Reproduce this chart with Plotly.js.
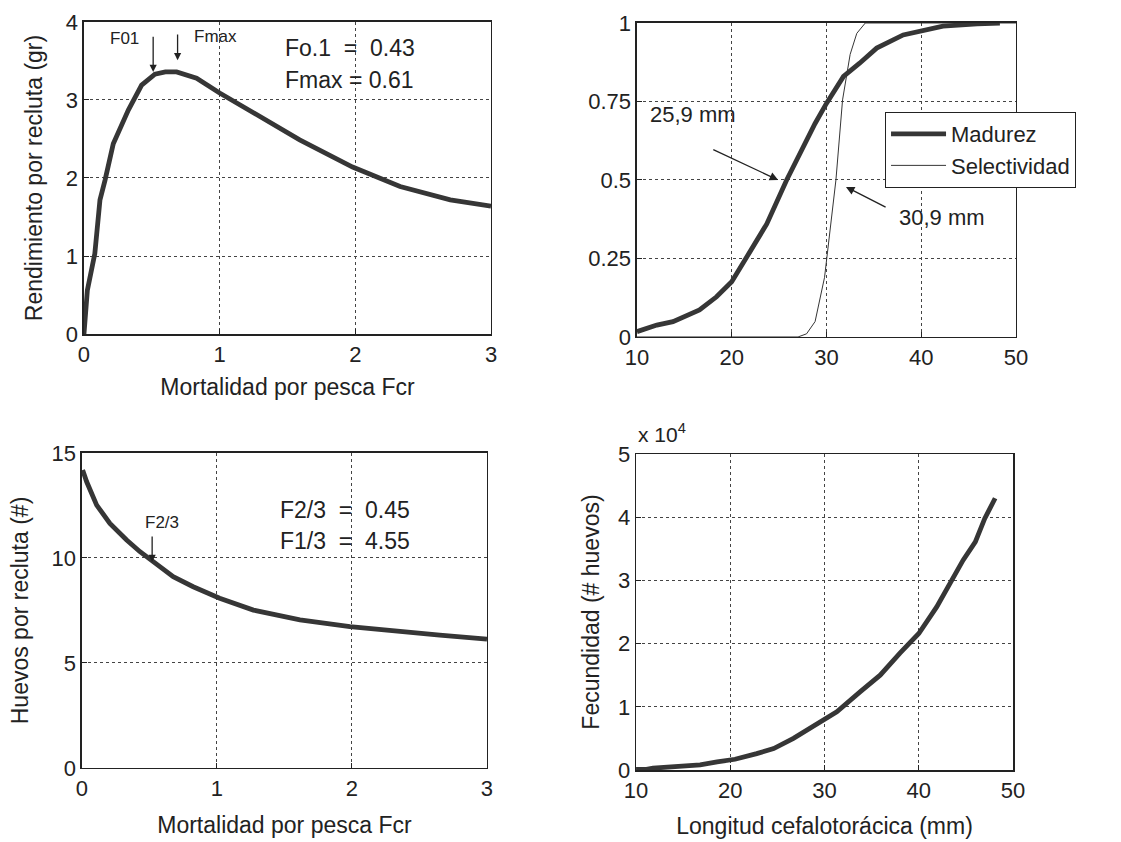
<!DOCTYPE html>
<html>
<head>
<meta charset="utf-8">
<script src="https://cdn.plot.ly/plotly-3.0.1.min.js"></script>
<style>html,body{margin:0;padding:0;background:#fff;} #chart{width:1121px;height:842px;}</style>
</head>
<body>
<div id="chart"></div>
<script>
// Rendimiento por recluta vs F
const F_rend = [0, 0.025, 0.08, 0.118, 0.155, 0.216, 0.327, 0.425, 0.523, 0.6, 0.683, 0.83, 1.0, 1.25, 1.59, 1.98, 2.33, 2.70, 3.0];
const rend   = [0, 0.56, 1.03, 1.72, 1.97, 2.44, 2.87, 3.19, 3.33, 3.36, 3.36, 3.28, 3.09, 2.83, 2.49, 2.14, 1.89, 1.72, 1.64];

// Madurez y selectividad vs longitud
const L_mad   = [10.0, 12.1, 13.8, 16.6, 18.4, 20.0, 21.7, 23.7, 25.8, 27.9, 28.8, 30.0, 31.8, 33.5, 35.3, 38.1, 40.2, 42.3, 45.9, 48.3];
const madurez = [0.017, 0.038, 0.049, 0.086, 0.128, 0.176, 0.26, 0.36, 0.50, 0.627, 0.68, 0.744, 0.83, 0.872, 0.92, 0.962, 0.976, 0.99, 0.997, 1.0];
const L_sel        = [10, 27.0, 27.9, 28.8, 29.8, 31.0, 31.7, 32.5, 33.2, 34.1, 50];
const selectividad = [0, 0, 0.01, 0.049, 0.19, 0.5, 0.755, 0.90, 0.967, 1.0, 1.0];

// Huevos por recluta vs F
const F_huevos = [0.005, 0.035, 0.109, 0.207, 0.331, 0.43, 0.528, 0.676, 0.824, 1.02, 1.27, 1.615, 1.985, 2.356, 2.65, 3.0];
const huevos   = [14.19, 13.63, 12.52, 11.65, 10.86, 10.30, 9.83, 9.11, 8.63, 8.08, 7.52, 7.05, 6.73, 6.49, 6.33, 6.14];

// Fecundidad (x 10^4) vs longitud
const L_fec      = [10, 11.1, 11.8, 15.0, 16.8, 18.6, 20.5, 22.8, 24.6, 26.7, 28.8, 31.3, 33.8, 35.9, 38.0, 40.0, 41.9, 43.3, 44.7, 46.0, 47.0, 48.1];
const fecundidad = [0.01, 0.01, 0.03, 0.05, 0.08, 0.13, 0.17, 0.26, 0.34, 0.50, 0.69, 0.92, 1.24, 1.50, 1.85, 2.16, 2.58, 2.95, 3.32, 3.61, 3.98, 4.30];

const serieNames = ['Madurez', 'Selectividad'];

const FONT = 'Liberation Sans, Arial, sans-serif';
const INK = '#222';
const LINE = '#363636';

function ax(extra) {
  return Object.assign({
    showline: true, mirror: true, linecolor: INK, linewidth: 1.5,
    ticks: 'inside', ticklen: 5, tickcolor: INK,
    showgrid: true, gridcolor: '#444', griddash: 'dot', gridwidth: 1,
    zeroline: false,
    tickfont: {family: FONT, size: 22, color: INK},
    fixedrange: true
  }, extra);
}
const tfont = {family: FONT, size: 23, color: INK};

const traces = [
  {x: F_rend, y: rend, xaxis: 'x', yaxis: 'y', mode: 'lines',
   line: {color: LINE, width: 4.8}, showlegend: false},
  {x: L_mad, y: madurez, xaxis: 'x2', yaxis: 'y2', mode: 'lines', name: serieNames[0],
   line: {color: LINE, width: 4.8}, showlegend: true},
  {x: L_sel, y: selectividad, xaxis: 'x2', yaxis: 'y2', mode: 'lines', name: serieNames[1],
   line: {color: LINE, width: 1}, showlegend: true},
  {x: F_huevos, y: huevos, xaxis: 'x3', yaxis: 'y3', mode: 'lines',
   line: {color: LINE, width: 4.8}, showlegend: false},
  {x: L_fec, y: fecundidad, xaxis: 'x4', yaxis: 'y4', mode: 'lines',
   line: {color: LINE, width: 4.8}, showlegend: false}
];

const nb = '\u00A0';
function txt(text, x, y, xref, yref, size, xanchor) {
  return {text: text, x: x, y: y, xref: xref, yref: yref, showarrow: false,
          xanchor: xanchor || 'center', yanchor: 'middle',
          font: {family: FONT, size: size, color: INK}};
}
function arrow(x, y, tx, ty, xref, yref, head, size) {
  return {text: '', x: x, y: y, ax: tx, ay: ty, xref: xref, yref: yref,
          axref: xref, ayref: yref, showarrow: true,
          arrowhead: head, arrowsize: size, arrowwidth: 1.3, arrowcolor: INK, standoff: 0};
}

const annotations = [
  txt('F01', 0.30, 3.79, 'x', 'y', 17),
  txt('Fmax', 0.97, 3.81, 'x', 'y', 17),
  arrow(0.51, 3.36, 0.51, 3.83, 'x', 'y', 2, 1.1),
  arrow(0.69, 3.51, 0.69, 3.86, 'x', 'y', 2, 1.1),
  txt('Fo.1' + nb + nb + '=' + nb + nb + '0.43', 1.47, 3.67, 'x', 'y', 23, 'left'),
  txt('Fmax' + nb + '=' + nb + '0.61', 1.47, 3.26, 'x', 'y', 23, 'left'),

  txt('25,9 mm', 11.16, 0.707, 'x2', 'y2', 22, 'left'),
  arrow(24.9, 0.5, 17.9, 0.599, 'x2', 'y2', 2, 1.3),
  arrow(32.06, 0.478, 36.4, 0.411, 'x2', 'y2', 2, 1.3),
  txt('30,9 mm', 37.4, 0.379, 'x2', 'y2', 22, 'left'),

  txt('F2/3', 0.593, 11.71, 'x3', 'y3', 17),
  arrow(0.52, 9.81, 0.52, 11.1, 'x3', 'y3', 2, 1.1),
  txt('F2/3' + nb + nb + '=' + nb + nb + '0.45', 1.452, 12.29, 'x3', 'y3', 23, 'left'),
  txt('F1/3' + nb + nb + '=' + nb + nb + '4.55', 1.452, 10.81, 'x3', 'y3', 23, 'left'),

  {text: 'x 10<sup>4</sup>', x: 0.5674, y: 0.4857, xref: 'paper', yref: 'paper',
   showarrow: false, xanchor: 'left', yanchor: 'middle',
   font: {family: FONT, size: 21, color: INK}}
];

const layout = {
  width: 1121, height: 842,
  margin: {l: 0, r: 0, t: 0, b: 0},
  paper_bgcolor: '#fff', plot_bgcolor: '#fff',
  font: {family: FONT, color: INK},
  xaxis: ax({domain: [0.0749, 0.438], range: [0, 3], anchor: 'y', tickvals: [0, 1, 2, 3],
    title: {text: 'Mortalidad por pesca Fcr', font: tfont, standoff: 13}}),
  yaxis: ax({domain: [0.6033, 0.9739], range: [0, 4], anchor: 'x', tickvals: [0, 1, 2, 3, 4],
    title: {text: 'Rendimiento por recluta (gr)', font: tfont, standoff: 16}}),
  xaxis2: ax({domain: [0.5682, 0.9063], range: [10, 50], anchor: 'y2', tickvals: [10, 20, 30, 40, 50]}),
  yaxis2: ax({domain: [0.5998, 0.9727], range: [0, 1], anchor: 'x2', tickvals: [0, 0.25, 0.5, 0.75, 1],
    ticktext: ['0', '0.25', '0.5', '0.75', '1']}),
  xaxis3: ax({domain: [0.0731, 0.4344], range: [0, 3], anchor: 'y3', tickvals: [0, 1, 2, 3],
    title: {text: 'Mortalidad por pesca Fcr', font: tfont, standoff: 17}}),
  yaxis3: ax({domain: [0.0879, 0.462], range: [0, 15], anchor: 'x3', tickvals: [0, 5, 10, 15],
    title: {text: 'Huevos por recluta (#)', font: tfont, standoff: 16}}),
  xaxis4: ax({domain: [0.5674, 0.9037], range: [10, 50], anchor: 'y4', tickvals: [10, 20, 30, 40, 50],
    title: {text: 'Longitud cefalotorácica (mm)', font: tfont, standoff: 16}}),
  yaxis4: ax({domain: [0.0855, 0.4608], range: [0, 5], anchor: 'x4', tickvals: [0, 1, 2, 3, 4, 5],
    title: {text: 'Fecundidad (# huevos)', font: tfont, standoff: 12}}),
  showlegend: true,
  legend: {x: 0.7895, y: 0.867, xanchor: 'left', yanchor: 'top',
    bgcolor: '#fff', bordercolor: INK, borderwidth: 1, itemwidth: 55,
    font: {family: FONT, size: 22, color: INK}, tracegroupgap: 0},
  annotations: annotations
};

Plotly.newPlot('chart', traces, layout, {staticPlot: true, displayModeBar: false});
</script>
</body>
</html>
